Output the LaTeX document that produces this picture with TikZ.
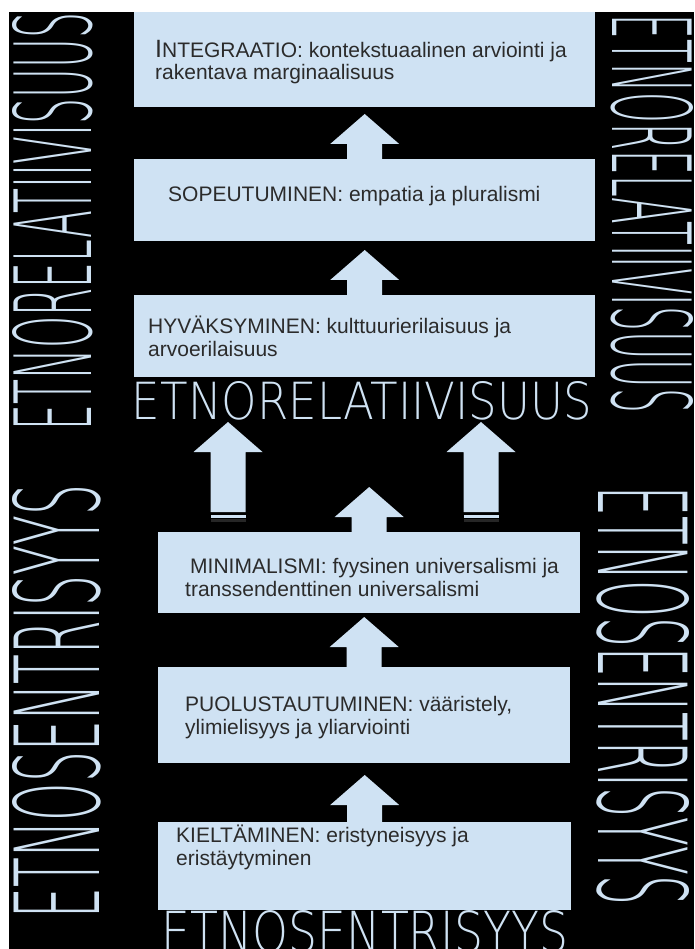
\documentclass[tikz,border=0pt]{standalone}
\usepackage{fontspec}
\setmainfont{Liberation Sans}
\newfontfamily\bigfont{DejaVuSans-ExtraLight.ttf}
\usetikzlibrary{calc, positioning}
\definecolor{cPale}{HTML}{CFE2F3}
\definecolor{cInk}{HTML}{2B2B2B}
\tikzset{
	stage/.style    ={rectangle, fill=cPale, inner sep=0pt, anchor=north west},
	stagetext/.style={anchor=base west, inner sep=0pt, text=cInk, align=left, font=\fontsize{21}{22.5}\selectfont},
	liftfill/.style ={fill=cPale},
	bigword/.style  ={inner sep=0pt, text=cPale},
}
% block arrow pointing up: #1 base point, #2 shaft length
\newcommand{\liftarrow}[2]{%
	\fill[liftfill] ($#1+(-17.5,0)$) -- ++(0,-#2) -- ++(-17,0) -- ++(34.5,-30) -- ++(34.5,30) -- ++(-17,0) -- ++(0,#2) -- cycle;}

\begin{document}
\begin{tikzpicture}[x=1pt, y=-1pt]
	\useasboundingbox (0,0) rectangle (694,949);
	\clip (0,0) rectangle (694,949);
	\fill[white] (0,0) rectangle (694,949);
	\fill[black] (9,12) rectangle (694,949);
	% stages
	\node[stage, minimum width=461pt, minimum height=95pt] (b1) at (134,12) {};
	\node[stage, minimum width=461pt, minimum height=82pt] (b2) at (134,159) {};
	\node[stage, minimum width=461pt, minimum height=82pt] (b3) at (134,295) {};
	\node[stage, minimum width=422pt, minimum height=81pt] (b4) at (158,532) {};
	\node[stage, minimum width=412pt, minimum height=96pt] (b5) at (158,667) {};
	\node[stage, minimum width=413pt, minimum height=88pt] (b6) at (158,822) {};
	% texts: base = last line
	\node[stagetext] (t1) at (155,80) {{\fontsize{25}{22.5}\selectfont I}NTEGRAATIO: kontekstuaalinen arviointi ja\\ rakentava marginaalisuus};
	\node[stagetext] (t2) at (168,202) {SOPEUTUMINEN: empatia ja pluralismi};
	\node[stagetext] (t3) at (148,356) {HYV\"AKSYMINEN: kulttuurierilaisuus ja\\ arvoerilaisuus};
	\node[stagetext] (t4) at (185,596) {\hspace{5pt}MINIMALISMI: fyysinen universalismi ja\\ transsendenttinen universalismi};
	\node[stagetext] (t5) at (185,734) {PUOLUSTAUTUMINEN: v\"a\"aristely,\\ ylimielisyys ja yliarviointi};
	\node[stagetext] (t6) at (176,865) {KIELT\"AMINEN: eristyneisyys ja\\ erist\"aytyminen};
	% big words
	\node[bigword] (mid) at (362,401) {\resizebox{460pt}{38pt}{\bigfont ETNORELATIIVISUUS}};
	\node[bigword] (bot) at (365,932) {\resizebox{406pt}{42pt}{\bigfont ETNOSENTRISYYS}};
	\node[bigword, rotate=90] (lup) at (52.5,221.5) {\resizebox{417pt}{79pt}{\bigfont ETNORELATIIVISUUS}};
	\node[bigword, rotate=90] (llo) at (56.5,701.5) {\resizebox{433pt}{87pt}{\bigfont ETNOSENTRISYYS}};
	\node[bigword, rotate=-90] (rup) at (652.5,214) {\resizebox{398pt}{81pt}{\bigfont ETNORELATIIVISUUS}};
	\node[bigword, rotate=-90] (rlo) at (643.5,696) {\resizebox{418pt}{91pt}{\bigfont ETNOSENTRISYYS}};
	% arrows
	\liftarrow{(b2.north)}{15}
	\liftarrow{(b3.north)}{15}
	\liftarrow{(b4.north)}{15}
	\liftarrow{(b5.north)}{20}
	\liftarrow{(b6.north)}{17}
	\coordinate (sl) at (228,512);
	\coordinate (sr) at (481,512);
	\liftarrow{(sl)}{60}
	\liftarrow{(sr)}{60}
	\foreach \s in {sl, sr}{
		\fill[liftfill] ($(\s)+(-17.5,2.5)$) rectangle ++(35,3.5);
		\fill[gray!30!black] ($(\s)+(-17.5,7)$) rectangle ++(35,3);
	}
\end{tikzpicture}
\end{document}
